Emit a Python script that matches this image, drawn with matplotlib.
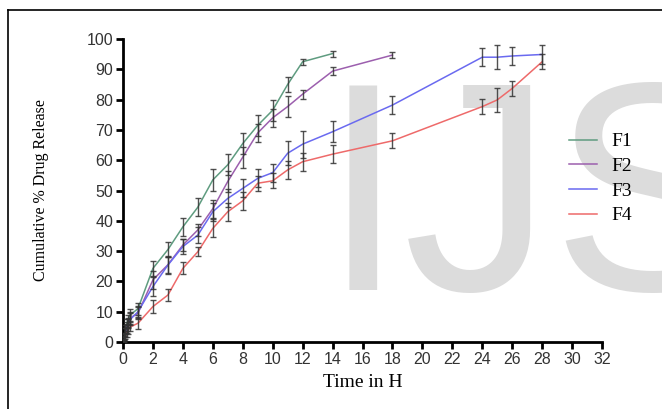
import matplotlib.pyplot as plt
from matplotlib.lines import Line2D

# time points (hours) and cumulative release (%) per formulation
t_f1 = [0, 0.083, 0.167, 0.25, 0.333, 0.5, 1, 2, 3, 4, 5, 6, 7, 8, 9, 10, 11, 12, 14]
f1 = [0, 2, 4, 6, 7.5, 9, 11, 24.3, 30.5, 38, 44.5, 53.5, 58.5, 65.5, 71.5, 76.5, 85, 92.5, 95.2]
f1_err = [0.5, 1, 1.5, 1.5, 1.5, 2, 2, 2.5, 2.5, 3, 3, 3.5, 3.5, 3.5, 3.5, 3.5, 2.5, 1, 1]

t_f2 = [0, 0.083, 0.167, 0.25, 0.333, 0.5, 1, 2, 3, 4, 5, 6, 7, 8, 9, 10, 11, 12, 14, 18]
f2 = [0, 1.5, 3, 5, 6.5, 8, 9.5, 20.5, 25.5, 32, 37, 44, 53, 61, 69, 74, 77.7, 81.8, 89.4, 94.7]
f2_err = [0.5, 1, 1.5, 1.5, 1.5, 2, 2, 3, 3, 2, 2, 3, 3.5, 3.5, 3, 3, 3.5, 1.5, 1.2, 1]

t_f3 = [0, 0.083, 0.167, 0.25, 0.333, 0.5, 1, 2, 3, 4, 5, 6, 7, 8, 9, 10, 11, 12, 14, 18, 24, 25, 26, 28]
f3 = [0, 1.5, 3, 4.5, 6, 7.5, 10, 18.3, 25.4, 31.5, 35.3, 43, 47.4, 50.7, 54, 55.9, 62.3, 65.3, 69.4, 78.2, 94, 94, 94.4, 94.9]
f3_err = [0.5, 1, 1.5, 1.5, 1.5, 2, 2, 3, 2.5, 2.5, 2.5, 3, 3, 3, 3, 3, 4, 4.5, 3.5, 3, 3, 4, 3, 3]

t_f4 = [0, 0.083, 0.167, 0.25, 0.333, 0.5, 1, 2, 3, 4, 5, 6, 7, 8, 9, 10, 11, 12, 14, 18, 24, 25, 26, 28]
f4 = [0, 1, 2, 3, 4, 5, 6.2, 11.7, 15.5, 24.3, 29.8, 37.5, 43, 46.6, 52.4, 53.2, 56.8, 59.5, 62, 66.4, 77.7, 79.9, 83.7, 92.5]
f4_err = [0.5, 1, 1, 1.5, 1.5, 1.5, 2, 2, 2, 2, 1.5, 3, 3, 3, 2.5, 2.5, 3, 3, 3, 2.5, 2.5, 4, 2.5, 2.5]

series = [
    ("F1", t_f1, f1, f1_err, "#5f9c80"),
    ("F2", t_f2, f2, f2_err, "#9c5fae"),
    ("F3", t_f3, f3, f3_err, "#6a6af0"),
    ("F4", t_f4, f4, f4_err, "#ee6a6a"),
]

fig = plt.figure(figsize=(6.62, 4.09), dpi=100)
ax = fig.add_axes([0.1858, 0.1638, 0.7236, 0.7408])

# watermark
fig.text(322 / 662, 1 - 290 / 409, "IJS", fontsize=214, color="#dcdcdc",
         family="Liberation Sans", ha="left", va="baseline", zorder=0)
ax.set_zorder(1)
ax.patch.set_visible(False)

for name, t, y, e, c in series:
    ax.plot(t, y, color=c, lw=1.1, label=name, zorder=2)
    ax.errorbar(t, y, yerr=e, fmt="none", ecolor="#333333", elinewidth=1,
                capsize=2.5, capthick=1, alpha=0.85, zorder=3)

ax.set_xlim(0, 32)
ax.set_ylim(0, 100)
ax.set_xticks(range(0, 33, 2))
ax.set_yticks(range(0, 101, 10))
for s in ("top", "right"):
    ax.spines[s].set_visible(False)
for s in ("left", "bottom"):
    ax.spines[s].set_linewidth(2)
ax.tick_params(width=2, length=5, labelsize=11.5, labelcolor="#333333",
               pad=2)
for lab in ax.get_xticklabels() + ax.get_yticklabels():
    lab.set_family("Liberation Sans")

ax.set_xlabel("Time in H", family="Liberation Serif", fontsize=14, labelpad=5)
ax.set_ylabel("Cumulative % Drug Release", family="Liberation Serif",
              fontsize=11.5, labelpad=27)

leg = ax.legend(loc="upper left", bbox_to_anchor=(0.895, 0.748), frameon=False,
                prop={"family": "Liberation Serif", "size": 14},
                handlelength=1.45, handletextpad=0.7, labelspacing=0.36)

# figure border (top and left)
fig.add_artist(Line2D([7.5 / 662, 1], [1 - 9.5 / 409] * 2, color="black", lw=1.2))
fig.add_artist(Line2D([7.5 / 662] * 2, [0, 1 - 9.5 / 409], color="black", lw=1.2))

fig.savefig("out.png", dpi=100)
